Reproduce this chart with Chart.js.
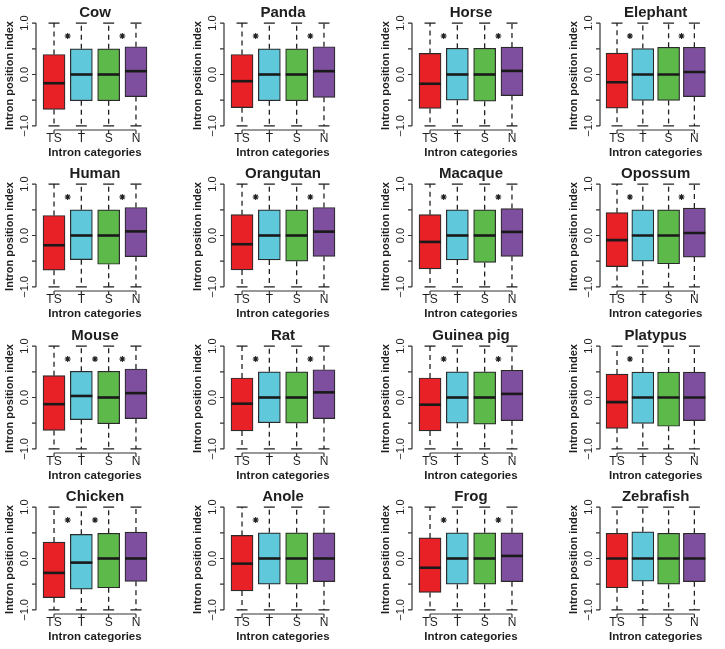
<!DOCTYPE html>
<html>
<head>
<meta charset="utf-8">
<script src="https://cdn.jsdelivr.net/npm/chart.js@4.4.1/dist/chart.umd.min.js"></script>
<style>
  html, body { margin: 0; padding: 0; background: #fff; overflow: hidden; }
  #grid { position: relative; width: 725px; height: 649px; }
  #grid canvas { position: absolute; }
</style>
</head>
<body>
<div id="grid"></div>
<script>
const species = ['Cow', 'Panda', 'Horse', 'Elephant',
  'Human', 'Orangutan', 'Macaque', 'Opossum',
  'Mouse', 'Rat', 'Guinea pig', 'Platypus',
  'Chicken', 'Anole', 'Frog', 'Zebrafish'];
const categories = ['TS', 'T', 'S', 'N'];
const boxColors = ['#e82127', '#5fc9db', '#5cb94a', '#7e4f9e'];

// lower quartile, median, upper quartile per species (TS, T, S, N)
const q1 = [
  [-0.68, -0.51, -0.51, -0.43], [-0.645, -0.51, -0.51, -0.445], [-0.66, -0.50, -0.52, -0.41], [-0.655, -0.505, -0.505, -0.43],
  [-0.675, -0.47, -0.56, -0.41], [-0.67, -0.475, -0.50, -0.405], [-0.65, -0.475, -0.525, -0.405], [-0.605, -0.50, -0.55, -0.42],
  [-0.64, -0.43, -0.51, -0.41], [-0.65, -0.49, -0.50, -0.41], [-0.65, -0.50, -0.52, -0.45], [-0.60, -0.505, -0.56, -0.45],
  [-0.76, -0.595, -0.57, -0.445], [-0.63, -0.50, -0.50, -0.45], [-0.66, -0.50, -0.50, -0.45], [-0.57, -0.44, -0.50, -0.45]
];
const median = [
  [-0.17, 0, 0, 0.065], [-0.13, 0, 0, 0.065], [-0.18, 0, 0, 0.07], [-0.15, 0, 0, 0.05],
  [-0.19, 0, 0, 0.08], [-0.17, 0, 0, 0.075], [-0.125, 0, 0, 0.07], [-0.09, 0, 0, 0.05],
  [-0.13, 0.03, 0, 0.085], [-0.12, 0, 0, 0.1], [-0.14, 0, 0, 0.07], [-0.09, 0, 0, 0],
  [-0.28, -0.08, 0, 0], [-0.10, 0, 0, 0], [-0.18, 0, 0, 0.05], [0, 0, 0, 0]
];
const q3 = [
  [0.39, 0.50, 0.50, 0.54], [0.39, 0.50, 0.50, 0.54], [0.41, 0.51, 0.51, 0.535], [0.415, 0.505, 0.53, 0.53],
  [0.39, 0.50, 0.50, 0.545], [0.405, 0.50, 0.50, 0.545], [0.405, 0.50, 0.50, 0.525], [0.445, 0.50, 0.50, 0.535],
  [0.425, 0.51, 0.51, 0.555], [0.38, 0.50, 0.50, 0.54], [0.38, 0.50, 0.50, 0.53], [0.455, 0.495, 0.495, 0.495],
  [0.32, 0.47, 0.49, 0.515], [0.45, 0.50, 0.50, 0.50], [0.40, 0.50, 0.50, 0.50], [0.49, 0.52, 0.49, 0.49]
];
const whiskerLow = [-1, -1, -1, -1];
const whiskerHigh = [1, 1, 1, 1];

// significance stars sit between neighbouring boxes
const starGaps = [
  [1.5, 3.5], [1.5, 3.5], [1.5, 3.5], [1.5, 3.5],
  [1.5, 3.5], [1.5, 3.5], [1.5, 3.5], [1.5, 3.5],
  [1.5, 2.5, 3.5], [1.5, 3.5], [1.5, 3.5], [1.5],
  [1.5, 2.5], [1.5], [1.5, 3.5], []
];
const starLevel = 0.75;

const yTicks = [-1, -0.5, 0, 0.5, 1];
const yTickLabels = { '-1': '\u22121.0', '0': '0.0', '1': '1.0' };
const yTitle = 'Intron position index';
const xTitle = 'Intron categories';

const FONT = '"Liberation Sans", Arial, Helvetica, sans-serif';
const INK = '#1e1e1e';

// R-style axes: lines only span the tick range
const rAxes = {
  id: 'rAxes',
  afterDraw(chart, args, opts) {
    const { ctx, chartArea: a, scales: { x, y } } = chart;
    ctx.save();
    ctx.strokeStyle = '#333';
    ctx.lineWidth = 1.2;
    ctx.beginPath();
    ctx.moveTo(a.left, y.getPixelForValue(-1));
    ctx.lineTo(a.left, y.getPixelForValue(1));
    yTicks.forEach(v => {
      const p = y.getPixelForValue(v);
      ctx.moveTo(a.left, p);
      ctx.lineTo(a.left - 4, p);
    });
    ctx.moveTo(x.getPixelForValue(1), a.bottom);
    ctx.lineTo(x.getPixelForValue(categories.length), a.bottom);
    categories.forEach((c, i) => {
      const p = x.getPixelForValue(i + 1);
      ctx.moveTo(p, a.bottom);
      ctx.lineTo(p, a.bottom + 4);
    });
    ctx.stroke();

    ctx.fillStyle = INK;
    ctx.textAlign = 'center';
    ctx.textBaseline = 'middle';

    ctx.font = '12px ' + FONT;
    categories.forEach((c, i) => {
      ctx.fillText(c, x.getPixelForValue(i + 1), a.bottom + 8.5);
    });
    ctx.font = 'bold 11.5px ' + FONT;
    ctx.fillText(xTitle, (a.left + a.right) / 2, a.bottom + 23);

    ctx.font = 'bold 15px ' + FONT;
    ctx.fillText(opts.title, (a.left + a.right) / 2, y.getPixelForValue(1) - 10.5);

    ctx.font = '11px ' + FONT;
    yTicks.forEach(v => {
      const label = yTickLabels[String(v)];
      if (!label) return;
      ctx.save();
      ctx.translate(a.left - 11, y.getPixelForValue(v));
      ctx.rotate(-Math.PI / 2);
      ctx.fillText(label, 0, 0);
      ctx.restore();
    });
    ctx.font = 'bold 11px ' + FONT;
    ctx.save();
    ctx.translate(a.left - 26, (a.top + a.bottom) / 2 + 1);
    ctx.rotate(-Math.PI / 2);
    ctx.fillText(yTitle, 0, 0);
    ctx.restore();
    ctx.restore();
  }
};

const grid = document.getElementById('grid');
const colStep = 188, rowStep = 161.3, panelH = 162;
const plotW = 118, plotH = 111, padLeft = 36, padTop = 19;

species.forEach((name, k) => {
  const col = k % 4, row = Math.floor(k / 4);
  const left = col * colStep;
  const top = Math.round(row * rowStep);
  const width = Math.min(colStep, 725 - left);

  const canvas = document.createElement('canvas');
  canvas.width = width;
  canvas.height = panelH;
  canvas.style.left = left + 'px';
  canvas.style.top = top + 'px';
  grid.appendChild(canvas);

  const pos = categories.map((c, i) => i + 1);
  const whiskers = [];
  pos.forEach((p, i) => {
    whiskers.push({ x: p, y: q3[k][i] }, { x: p, y: whiskerHigh[i] }, { x: p, y: null });
    whiskers.push({ x: p, y: q1[k][i] }, { x: p, y: whiskerLow[i] }, { x: p, y: null });
  });
  const caps = [];
  pos.forEach((p, i) => {
    caps.push({ x: p, y: whiskerLow[i] }, { x: p, y: whiskerHigh[i] });
  });

  new Chart(canvas, {
    type: 'bar',
    data: {
      datasets: [
        {
          type: 'scatter',
          data: pos.map((p, i) => ({ x: p, y: median[k][i] })),
          pointStyle: 'line',
          pointRadius: 11,
          borderWidth: 2.6,
          borderColor: '#1a1a1a'
        },
        {
          type: 'scatter',
          data: starGaps[k].map(g => ({ x: g, y: starLevel })),
          pointStyle: 'star',
          pointRadius: 3,
          borderWidth: 1.1,
          borderColor: INK
        },
        {
          type: 'bar',
          data: pos.map((p, i) => ({ x: p, y: [q1[k][i], q3[k][i]] })),
          backgroundColor: boxColors,
          borderColor: '#2a2a2a',
          borderWidth: 1.2,
          borderSkipped: false,
          barThickness: 22
        },
        {
          type: 'scatter',
          data: caps,
          pointStyle: 'line',
          pointRadius: 5.5,
          borderWidth: 1.3,
          borderColor: '#222'
        },
        {
          type: 'line',
          data: whiskers,
          borderColor: '#222',
          borderWidth: 1.3,
          borderDash: [5, 4],
          pointRadius: 0,
          spanGaps: false,
          fill: false
        }
      ]
    },
    options: {
      responsive: false,
      animation: false,
      layout: {
        padding: { left: padLeft, top: padTop, right: width - padLeft - plotW, bottom: panelH - padTop - plotH }
      },
      scales: {
        x: { type: 'linear', min: 0.34, max: 4.66, offset: false, display: false },
        y: { type: 'linear', min: -1.08, max: 1.08, display: false }
      },
      plugins: {
        legend: { display: false },
        tooltip: { enabled: false },
        rAxes: { title: name }
      }
    },
    plugins: [rAxes]
  });
});
</script>
</body>
</html>
